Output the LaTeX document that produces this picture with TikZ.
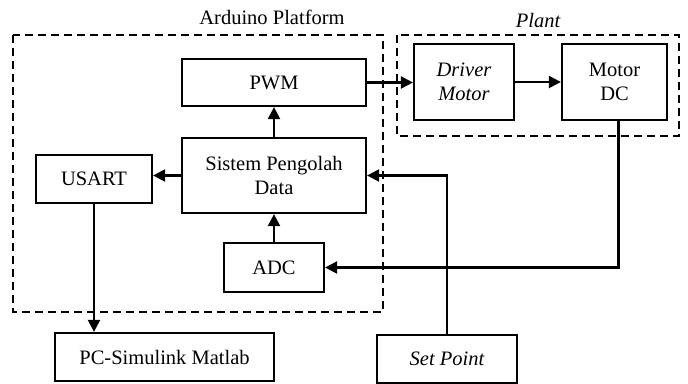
\documentclass[tikz,border=0pt]{standalone}
\usepackage{fontspec}
\setmainfont{Liberation Serif}
\usetikzlibrary{arrows.meta}
\begin{document}
\begin{tikzpicture}[x=1pt,y=-1pt,
  txt/.style={font=\fontsize{20.5}{24.5}\selectfont},
  blk/.style={draw, txt, line width=2.2pt, inner sep=0pt, align=center},
  grp/.style={draw, line width=2.2pt, dash pattern=on 8pt off 5pt},
  conn/.style={line width=2.2pt},
  arr/.style={conn, -{Triangle[length=12pt,width=12pt]}},
  lbl/.style={txt, inner sep=0pt}]
\useasboundingbox (0,0) rectangle (688,383);

% group frames
\draw[grp] (13,35) rectangle (383,312);
\draw[grp] (397,35) rectangle (679,136);
\node[lbl] (ttlA) at (272,17) {Arduino Platform};
\node[lbl] (ttlP) at (538,20) {\itshape Plant};

% blocks
\node[blk, minimum width=184pt, minimum height=47pt] (pwm) at (274,82.5) {PWM};
\node[blk, minimum width=184pt, minimum height=75pt] (spd) at (274,175.5) {Sistem Pengolah\\Data};
\node[blk, minimum width=116pt, minimum height=48pt] (usart) at (94,179) {USART};
\node[blk, minimum width=100pt, minimum height=49pt] (adc) at (274,267.5) {ADC};
\node[blk, minimum width=219pt, minimum height=48pt] (pc) at (164.5,357) {PC-Simulink Matlab};
\node[blk, minimum width=140pt, minimum height=48pt] (sp) at (447,359) {\itshape Set Point};
\node[blk, minimum width=100pt, minimum height=76pt] (drv) at (464,82) {\itshape Driver\\\itshape Motor};
\node[blk, minimum width=105pt, minimum height=76pt] (mot) at (614.5,82) {Motor\\DC};

% connectors
\coordinate (motout) at ([xshift=4pt]mot.south);
\draw[arr] (pwm.east) -- (drv.west |- pwm.east);
\draw[arr] (drv) -- (mot);
\draw[arr] (spd) -- (pwm);
\draw[arr] (adc) -- (spd);
\draw[arr] (spd.west) -- (usart.east |- spd.west);
\draw[arr] (usart.south) -- (usart.south |- pc.north);
\draw[arr] (motout) |- (adc.east);
\draw[arr] (sp.north) |- (spd.east);
\end{tikzpicture}
\end{document}
